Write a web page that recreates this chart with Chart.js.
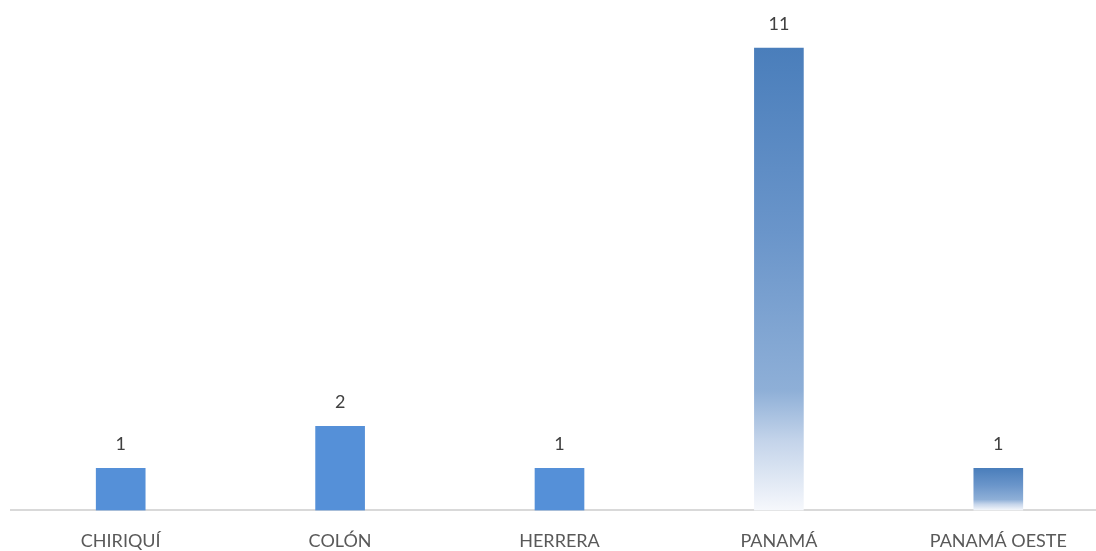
<!DOCTYPE html>
<html>
<head>
<meta charset="utf-8">
<script src="https://cdn.jsdelivr.net/npm/chart.js@4"></script>
<style>
  html, body { margin: 0; padding: 0; background: #fff; overflow: hidden; }
  #wrap { width: 1110px; height: 572px; }
</style>
</head>
<body>
<div id="wrap"><canvas id="provChart" width="1110" height="572"></canvas></div>
<script>
const categories = ["CHIRIQUÍ", "COLÓN", "HERRERA", "PANAMÁ", "PANAMÁ OESTE"];
const values = [1, 2, 1, 11, 1];
const gradientBars = [false, false, false, true, true];

document.addEventListener("DOMContentLoaded", () => {
    const canvas = document.getElementById("provChart");

    const barFill = (ctx) => {
        const i = ctx.dataIndex;
        if (!gradientBars[i]) return "#5590d8";
        const y = ctx.chart.scales.y;
        if (!y || y.top === undefined) return "#5b8bc8";
        const top = y.getPixelForValue(values[i]);
        const base = y.getPixelForValue(0);
        const g = ctx.chart.ctx.createLinearGradient(0, top, 0, base);
        g.addColorStop(0, "#4a7ebb");
        g.addColorStop(0.4, "#6a95ca");
        g.addColorStop(0.74, "#8eafd7");
        g.addColorStop(0.85, "#c4d4ea");
        g.addColorStop(1, "#f6f8fc");
        return g;
    };

    const valueLabels = {
        id: "valueLabels",
        afterDatasetsDraw(chart) {
            const c = chart.ctx;
            c.save();
            c.font = "18px Lato, 'Open Sans', sans-serif";
            c.fillStyle = "#404040";
            c.textAlign = "center";
            c.textBaseline = "middle";
            chart.getDatasetMeta(0).data.forEach((bar, i) => {
                c.fillText(String(values[i]), bar.x, bar.y - 24);
            });
            c.restore();
        }
    };

    new Chart(canvas, {
        type: "bar",
        data: {
            labels: categories,
            datasets: [{
                data: values,
                backgroundColor: barFill,
                borderWidth: 0,
                barThickness: 49
            }]
        },
        options: {
            responsive: false,
            maintainAspectRatio: false,
            animation: false,
            layout: { padding: { left: 11, right: 2, top: 6, bottom: 0 } },
            plugins: {
                legend: { display: false },
                tooltip: { enabled: false }
            },
            scales: {
                x: {
                    grid: { display: false, drawTicks: false },
                    border: { color: "#d9d9d9", width: 2 },
                    ticks: {
                        color: "#595959",
                        font: { family: "Lato, 'Open Sans', sans-serif", size: 18 },
                        padding: 20
                    }
                },
                y: {
                    display: false,
                    min: 0,
                    max: 12
                }
            }
        },
        plugins: [valueLabels]
    });
});
</script>
</body>
</html>
